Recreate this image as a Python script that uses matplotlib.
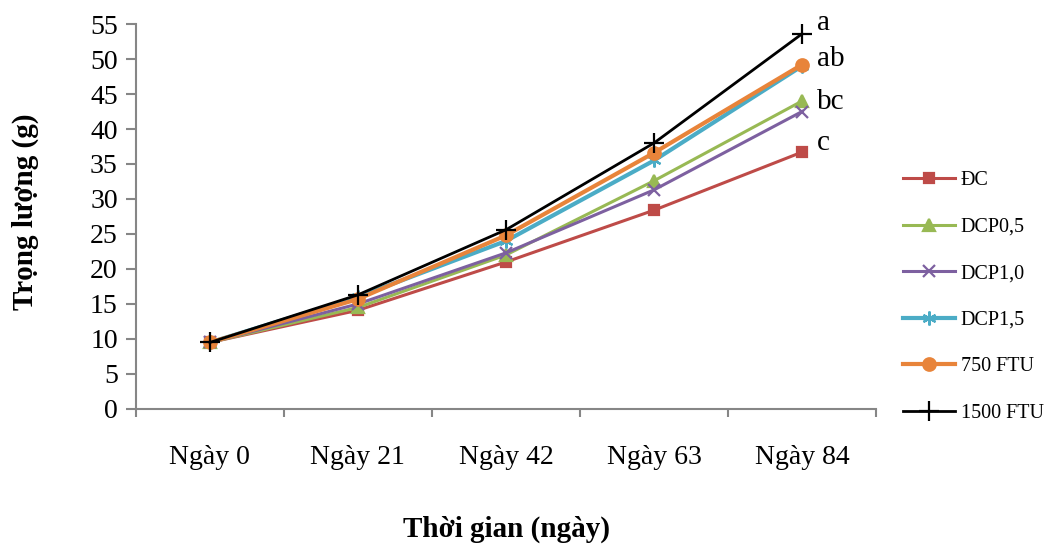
import matplotlib
matplotlib.use("Agg")
import matplotlib.pyplot as plt
from matplotlib.ticker import MultipleLocator, FixedLocator

plt.rcParams['font.family'] = ['Liberation Serif', 'DejaVu Serif']

categories = ["Ngày 0", "Ngày 21", "Ngày 42", "Ngày 63", "Ngày 84"]
series_names = ["ĐC", "DCP0,5", "DCP1,0", "DCP1,5", "750 FTU", "1500 FTU"]
dc = [9.5, 14.1, 21.0, 28.4, 36.7]
dcp05 = [9.5, 14.5, 22.0, 32.6, 44.0]
dcp10 = [9.5, 15.0, 22.3, 31.3, 42.5]
dcp15 = [9.5, 16.0, 24.0, 35.5, 49.0]
ftu750 = [9.5, 15.7, 24.8, 36.6, 49.2]
ftu1500 = [9.5, 16.3, 25.6, 38.0, 53.6]
letters = ["a", "ab", "bc", "c"]
letter_y = [55.2, 50.0, 43.8, 38.0]

values = [dc, dcp05, dcp10, dcp15, ftu750, ftu1500]
colors = ["#BE4B48", "#98B954", "#7D60A0", "#4BACC6", "#E8843A", "#000000"]
markers = ["s", "^", "x", (6, 2, 0), "o", "+"]
lws = [2.2, 2.2, 2.2, 3.0, 3.0, 2.0]
msizes = [7, 8, 9, 10, 9, 14]

fig = plt.figure(figsize=(10.53, 5.46), dpi=100)
ax = fig.add_axes([0.129, 0.251, 0.703, 0.705])
x = list(range(len(categories)))
handles = []
for name, vals, c, m, lw, ms in zip(series_names, values, colors, markers, lws, msizes):
    h, = ax.plot(x, vals, color=c, marker=m, lw=lw, ms=ms, mew=1.6,
                 label=name, clip_on=False)
    handles.append(h)

ax.set_xlim(-0.5, 4.5)
ax.set_ylim(0, 55)
ax.yaxis.set_major_locator(MultipleLocator(5))
ax.set_xticks(x)
ax.set_xticklabels(categories, fontsize=20)
ax.xaxis.set_minor_locator(FixedLocator([-0.5, 0.5, 1.5, 2.5, 3.5, 4.5]))
ax.tick_params(axis='x', which='major', length=0, pad=26)
ax.tick_params(axis='x', which='minor', length=6, width=1.5, color='#868686', direction='out')
ax.tick_params(axis='y', labelsize=20, length=7, width=1.5, color='#868686', pad=6)
for s in ['top', 'right']:
    ax.spines[s].set_visible(False)
for s in ['left', 'bottom']:
    ax.spines[s].set_color('#868686')
    ax.spines[s].set_linewidth(1.5)

for t, yv in zip(letters, letter_y):
    ax.text(4.1, yv, t, fontsize=21, ha='left', va='center')

fig.text(0.024, 0.612, "Trọng lượng (g)", fontsize=21, fontweight='bold',
         ha='center', va='center', rotation=90)
fig.text(0.481, 0.03, "Thời gian (ngày)", fontsize=21, fontweight='bold', ha='center', va='center')

fig.legend(handles=handles, loc='upper left', bbox_to_anchor=(0.850, 0.701),
           frameon=False, fontsize=14.5, handlelength=2.6, labelspacing=1.36,
           handletextpad=0.25, borderaxespad=0)

fig.savefig("out.png", dpi=100)
